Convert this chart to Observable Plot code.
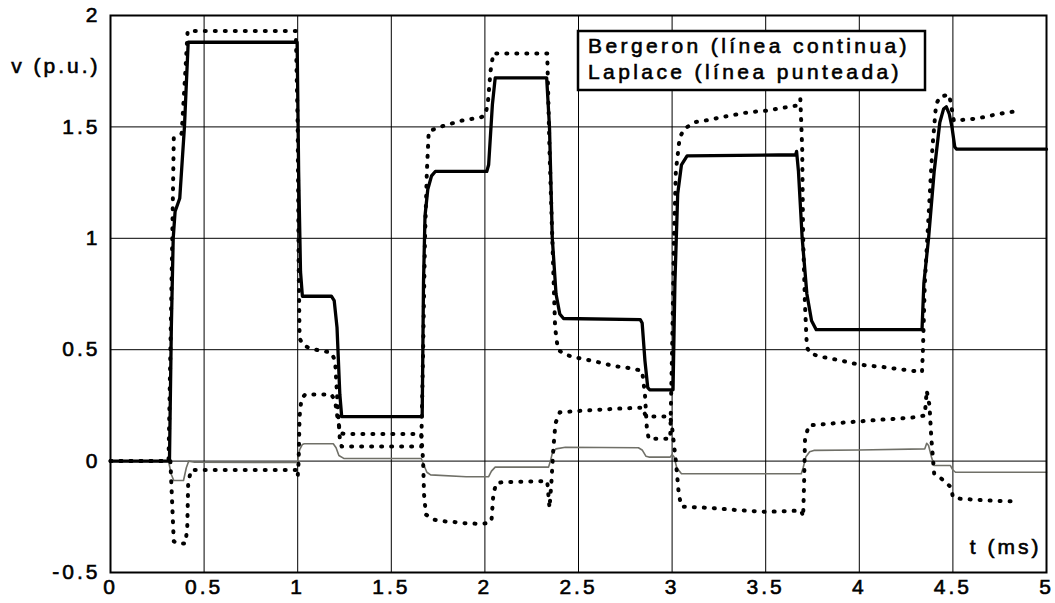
<!DOCTYPE html>
<html>
<head>
<meta charset="utf-8">
<script src="https://cdn.jsdelivr.net/npm/d3@7"></script>
<script src="https://cdn.jsdelivr.net/npm/@observablehq/plot@0.6"></script>
<style>
  body { margin: 0; background: #fff; }
  #chart { width: 1055px; height: 603px; }
  #chart svg text { stroke: #000; stroke-width: 0.6px; }
</style>
</head>
<body>
<div id="chart"></div>
<script>
// Tick values
const xTicks = [0, 0.5, 1, 1.5, 2, 2.5, 3, 3.5, 4, 4.5, 5];
const yTicks = [-0.5, 0, 0.5, 1, 1.5, 2];

// Texts
const yLabel = "v (p.u.)";
const xLabel = "t (ms)";
const legendLines = ["Bergeron (línea continua)", "Laplace (línea punteada)"];

// Bergeron, main conductor (solid thick line): [t (ms), v (p.u.)]
const bergeronMain = [
  [0,0],[0.315,0],[0.325,0.6],[0.335,1.0],[0.345,1.12],[0.37,1.18],[0.395,1.5],[0.415,1.88],
  [0.997,1.88],[1.005,1.3],[1.015,0.85],[1.025,0.74],[1.18,0.74],[1.195,0.72],[1.21,0.6],
  [1.225,0.3],[1.235,0.2],[1.665,0.2],[1.672,0.8],[1.68,1.1],[1.695,1.22],[1.715,1.28],
  [1.735,1.30],[2.01,1.30],[2.02,1.33],[2.04,1.6],[2.055,1.72],[2.33,1.72],[2.345,1.5],
  [2.36,1.0],[2.38,0.75],[2.4,0.66],[2.42,0.64],[2.83,0.635],[2.84,0.62],[2.855,0.45],
  [2.87,0.33],[2.88,0.32],[3.005,0.32],[3.015,0.8],[3.03,1.2],[3.05,1.33],[3.08,1.37],
  [3.66,1.375],[3.665,1.39],[3.675,1.3],[3.695,1.0],[3.72,0.75],[3.745,0.63],[3.77,0.59],
  [4.335,0.59],[4.345,0.8],[4.37,1.0],[4.40,1.3],[4.43,1.52],[4.45,1.58],[4.465,1.59],
  [4.48,1.56],[4.495,1.5],[4.51,1.41],[4.52,1.40],[5,1.40]
];

// Bergeron, induced conductor (thin grey line)
const bergeronInduced = [
  [0,0],[0.31,0],[0.325,-0.06],[0.338,-0.087],[0.39,-0.087],[0.405,-0.03],[0.418,0.0],
  [0.45,-0.005],[0.99,-0.006],[1.0,0.0],[1.01,0.05],[1.025,0.075],[1.035,0.078],[1.19,0.078],
  [1.205,0.06],[1.22,0.025],[1.246,0.012],[1.66,0.012],[1.675,-0.02],[1.69,-0.05],[1.71,-0.062],
  [1.9,-0.07],[2.02,-0.07],[2.035,-0.045],[2.055,-0.027],[2.34,-0.027],[2.35,0.0],[2.36,0.035],
  [2.38,0.055],[2.43,0.062],[2.82,0.06],[2.84,0.05],[2.86,0.022],[2.876,0.018],[2.99,0.018],
  [3.0,0.03],[3.01,0.02],[3.025,-0.03],[3.05,-0.057],[3.69,-0.057],[3.70,-0.03],[3.715,0.02],
  [3.735,0.042],[3.757,0.048],[4.0,0.05],[4.35,0.055],[4.36,0.08],[4.37,0.07],[4.385,0.02],
  [4.40,-0.02],[4.487,-0.02],[4.50,-0.04],[4.514,-0.05],[5,-0.05]
];

// Laplace, main conductor (dotted)
const laplaceMain = [
  [0,0],[0.31,0],[0.32,0.5],[0.33,1.0],[0.338,1.45],[0.38,1.47],[0.40,1.75],[0.412,1.93],
  [0.99,1.93],[1.0,1.5],[1.005,0.9],[1.01,0.55],[1.03,0.52],[1.07,0.505],[1.12,0.496],
  [1.18,0.487],[1.2,0.45],[1.21,0.3],[1.225,0.1],[1.235,0.065],[1.66,0.065],[1.67,0.5],
  [1.68,1.0],[1.69,1.3],[1.70,1.48],[1.76,1.50],[1.83,1.517],[1.88,1.529],[1.93,1.536],
  [1.98,1.544],[2.0,1.55],[2.015,1.6],[2.03,1.75],[2.045,1.83],[2.333,1.83],[2.345,1.4],
  [2.36,1.0],[2.375,0.6],[2.39,0.5],[2.43,0.478],[2.48,0.466],[2.54,0.456],[2.59,0.447],
  [2.64,0.437],[2.69,0.426],[2.75,0.421],[2.81,0.411],[2.84,0.405],[2.855,0.3],[2.865,0.15],
  [2.875,0.1],[2.99,0.1],[3.0,0.5],[3.01,1.0],[3.02,1.3],[3.04,1.45],[3.063,1.49],[3.12,1.521],
  [3.2,1.532],[3.26,1.543],[3.33,1.554],[3.39,1.563],[3.45,1.569],[3.51,1.573],[3.56,1.581],
  [3.61,1.588],[3.665,1.596],[3.685,1.626],[3.695,1.4],[3.70,1.0],[3.71,0.7],[3.72,0.51],
  [3.74,0.482],[3.81,0.466],[3.90,0.452],[3.96,0.44],[4.01,0.432],[4.08,0.426],[4.14,0.421],
  [4.2,0.414],[4.27,0.407],[4.335,0.399],[4.34,0.5],[4.35,0.8],[4.37,1.1],[4.39,1.4],
  [4.41,1.6],[4.43,1.635],[4.48,1.645],[4.49,1.6],[4.505,1.528],[4.56,1.532],[4.61,1.536],
  [4.665,1.544],[4.72,1.554],[4.77,1.562],[4.825,1.569]
];

// Laplace, induced conductor (dotted)
const laplaceInduced = [
  [0,0],[0.32,0],[0.33,-0.2],[0.338,-0.36],[0.36,-0.37],[0.40,-0.37],[0.41,-0.3],[0.415,-0.1],
  [0.43,-0.04],[0.99,-0.04],[1.0,-0.07],[1.005,0.0],[1.01,0.2],[1.02,0.28],[1.04,0.299],
  [1.18,0.299],[1.2,0.27],[1.215,0.18],[1.23,0.125],[1.25,0.122],[1.66,0.122],[1.67,0.0],
  [1.675,-0.15],[1.685,-0.24],[1.727,-0.263],[1.78,-0.27],[1.843,-0.274],[1.896,-0.279],
  [1.959,-0.281],[2.012,-0.279],[2.035,-0.27],[2.045,-0.15],[2.06,-0.1],[2.09,-0.095],
  [2.333,-0.09],[2.345,-0.21],[2.355,-0.1],[2.365,0.05],[2.377,0.17],[2.40,0.219],[2.5,0.225],
  [2.6,0.23],[2.7,0.235],[2.81,0.239],[2.845,0.24],[2.855,0.21],[2.87,0.2],[2.99,0.2],
  [3.0,0.15],[3.02,0.0],[3.036,-0.15],[3.05,-0.204],[3.2,-0.21],[3.35,-0.22],[3.5,-0.228],
  [3.69,-0.222],[3.70,-0.25],[3.705,-0.1],[3.71,0.1],[3.73,0.16],[3.8,0.165],[3.9,0.172],
  [4.0,0.178],[4.1,0.185],[4.2,0.19],[4.3,0.197],[4.35,0.205],[4.36,0.317],[4.375,0.25],
  [4.385,0.1],[4.40,-0.057],[4.44,-0.08],[4.49,-0.117],[4.50,-0.162],[4.54,-0.169],
  [4.65,-0.175],[4.75,-0.179],[4.83,-0.181]
];

const font = "'Liberation Sans', Arial, sans-serif";
const dotted = {x: d => d[0], y: d => d[1], stroke: "#000", strokeWidth: 4,
  strokeDasharray: "1,9", strokeLinecap: "round", strokeLinejoin: "round"};

const svg = Plot.plot({
  width: 1055,
  height: 603,
  marginLeft: 110,
  marginRight: 9,
  marginTop: 15,
  marginBottom: 31,
  style: {fontFamily: font, letterSpacing: "3px", color: "#000", background: "#fff"},
  x: {domain: [0, 5]},
  y: {domain: [-0.5, 2]},
  marks: [
    Plot.gridX(xTicks, {stroke: "#000", strokeOpacity: 1, strokeWidth: 1}),
    Plot.gridY(yTicks, {stroke: "#000", strokeOpacity: 1, strokeWidth: 1}),
    Plot.line(bergeronInduced, {x: d => d[0], y: d => d[1], stroke: "#707068", strokeWidth: 1.6}),
    Plot.line(laplaceInduced, dotted),
    Plot.line(laplaceMain, dotted),
    Plot.line(bergeronMain, {x: d => d[0], y: d => d[1], stroke: "#000", strokeWidth: 3.3, strokeLinejoin: "round"}),
    Plot.frame({stroke: "#000", strokeWidth: 2}),
    Plot.axisX({ticks: xTicks, tickSize: 0, tickPadding: 7, fontSize: 21, tickFormat: d => String(d), label: null}),
    Plot.axisY({ticks: yTicks, tickSize: 0, tickPadding: 10, fontSize: 21, tickFormat: d => String(d), label: null}),
    Plot.text([yLabel], {frameAnchor: "top-left", textAnchor: "end", dx: -10, dy: 43, fontSize: 21, fill: "#000"}),
    Plot.text([xLabel], {frameAnchor: "bottom-right", textAnchor: "end", dx: -5, dy: -19, fontSize: 21, fill: "#000"})
  ]
});

// Legend box inside the plot
const g = d3.select(svg).append("g");
g.append("rect")
  .attr("x", 578).attr("y", 31).attr("width", 347).attr("height", 59)
  .attr("fill", "#fff").attr("stroke", "#000").attr("stroke-width", 2.5);
legendLines.forEach((s, i) => {
  g.append("text")
    .attr("x", 588).attr("y", 52.5 + i * 26.5)
    .attr("text-anchor", "start")
    .attr("font-family", font).attr("font-size", 21)
    .attr("letter-spacing", "3.4px").attr("fill", "#000")
    .text(s);
});

document.getElementById("chart").appendChild(svg);
</script>
</body>
</html>
